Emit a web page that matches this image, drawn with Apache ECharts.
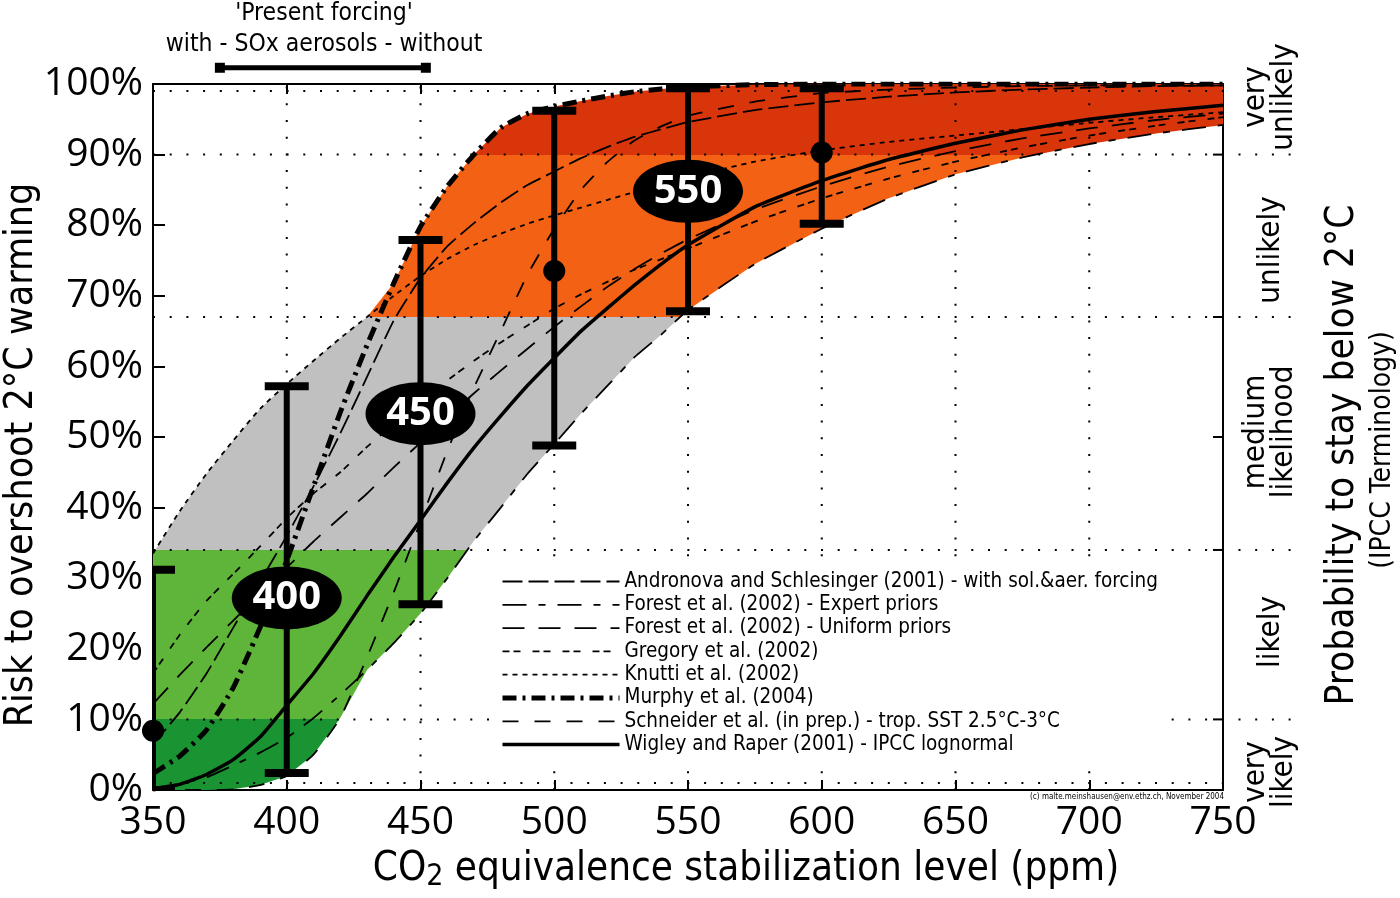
<!DOCTYPE html>
<html><head><meta charset="utf-8">
<script src="https://cdn.jsdelivr.net/npm/echarts@6/dist/echarts.min.js"></script>
<style>html,body{margin:0;padding:0;background:#fff}#c{width:1400px;height:898px}</style>
</head><body><div id="c"></div>
<script>
// ---------------- DATA ----------------
const ppm = [350,360,370,380,390,400,410,420,430,440,450,460,470,480,490,500,510,520,530,540,550,575,600,625,650,675,700,725,750];
const andronova     = [6.5,11,16.5,23,29.5,36,43,50.5,58.5,66.5,72.5,77,80.3,83.2,85.7,87.6,89.5,91.1,92.5,93.6,94.6,96.3,97.4,98.2,98.8,99.2,99.5,99.7,99.8];
const forestExpert  = [0.3,0.9,1.8,3.5,5.3,7.4,10.2,13.5,17,20.8,25,30,35.3,40,44.8,49,53.3,57.3,61.3,64.5,68,74.5,79.5,83.8,87.2,89.6,91.5,93,94.2];
const forestUniform = [12.2,16.3,20.2,24,27.8,31.5,35.2,38.6,42,45.7,49.2,52.8,56.2,59.4,62.5,65.6,68.5,71.3,73.8,76,78,82.2,85.5,88.3,90.5,92.3,93.7,94.9,95.8];
const gregory       = [16.5,22,26.8,30.6,34.5,38.5,42,45,48.6,51.8,55,58,60.8,63.4,65.8,68.2,70.2,72,73.7,75.2,76.7,80.5,83.8,86.6,89,91,92.7,94.1,95.3];
const knutti        = [33.5,39.5,44.8,49.5,54,57.5,60.8,64,67,70,72.8,75.2,77.2,78.8,80.2,81.4,82.5,83.6,84.7,85.8,86.8,89,90.6,91.8,92.7,93.6,94.5,95.3,96];
const murphy        = [2.3,4.8,8.5,14.5,23,32.5,43,53.5,63,71.8,79.8,85.5,90,93.8,95.8,96.8,97.6,98.3,98.9,99.3,99.6,99.9,100,100,100,100,100,100,100];
const schneider     = [0,0,0,0.1,0.7,2.0,5.0,10.2,18.8,28,38,48,57,65,73,79.5,85,89,92,94,95.5,97.5,98.7,99.2,99.5,99.7,99.8,99.9,100];
const wigley        = [0,0.8,2.2,4.3,7.5,12,16.5,21.8,27.5,33,38.2,43.5,48.5,53,57.3,61.2,65,68.3,71.5,74.5,77.2,82.6,86.3,89.3,91.6,93.5,95,96.1,97];

const seriesNames = [
  'Andronova and Schlesinger (2001) - with sol.&aer. forcing',
  'Forest et al. (2002) - Expert priors',
  'Forest et al. (2002) - Uniform priors',
  'Gregory et al. (2002)',
  'Knutti et al. (2002)',
  'Murphy et al. (2004)',
  'Schneider et al. (in prep.) - trop. SST 2.5°C-3°C',
  'Wigley and Raper (2001) - IPCC lognormal'
];

// error bars (range over studies and mean) at selected stabilization levels
const errPpm   = [350, 400, 450, 500, 550, 600];
const errLow   = [0, 2.4, 26.3, 48.8, 67.8, 80.2];
const errHigh  = [31.2, 57.2, 77.9, 96.2, 99.4, 99.4];
const errMean  = [8.4, 27.2, 53.3, 73.5, 84.8, 90.3];
const errLabel = ['', '400', '450', '', '550', ''];

// likelihood bands (risk %) and their names
const bandEdges  = [0, 10, 34, 67, 90, 100];
const bandNames  = ['very\nlikely', 'likely', 'medium\nlikelihood', 'unlikely', 'very\nunlikely'];
const dottedLevels = [1, 10, 34, 67, 90, 99];
const extendedLevels = [10, 34, 67, 90];
const rightTickLevels = [10, 34, 50, 67, 90];
const vGridLevels = [400, 450, 500, 550, 600, 650, 700];

// 'Present forcing' range (with / without SOx aerosols)
const forcingRange = [375, 452];
const forcingLevel = 102.3;

// ---------------- STYLES ----------------
const FONT_NUM = '"Open Sans", "DejaVu Sans", sans-serif';
const FONT_TXT = '"DejaVu Sans Condensed", "Open Sans", sans-serif';
const bandColors = ['#1a9332', '#5eb53a', '#c0c0c0', '#f26114', '#d9350b'];
const curveData = [andronova, forestExpert, forestUniform, gregory, knutti, murphy, schneider, wigley];
const curveStyles = [
  {width: 1.8, type: [20, 6]},
  {width: 1.8, type: [24, 12, 7, 12]},
  {width: 1.8, type: [22, 14]},
  {width: 1.8, type: [7, 4, 7, 12]},
  {width: 1.8, type: [5, 5]},
  {width: 5,   type: [14, 6, 3, 6]},
  {width: 1.8, type: [16, 16]},
  {width: 3.5, type: 'solid'}
];

// envelope of all studies
const envLow  = ppm.map((x, i) => Math.min(...curveData.map(c => c[i])));
const envHigh = ppm.map((x, i) => Math.max(...curveData.map(c => c[i])));

const chart = echarts.init(document.getElementById('c'), null, {renderer: 'canvas'});

const series = [];
series.push({
  name: 'envelope', type: 'custom', silent: true, clip: true, z: 1,
  data: [[350, 0]],
  renderItem: function (params, api) {
    const top = ppm.map((x, i) => api.coord([x, envHigh[i]]));
    const bot = ppm.map((x, i) => api.coord([x, envLow[i]])).reverse();
    const y0 = api.coord([350, bandEdges[0]])[1];
    const y1 = api.coord([350, bandEdges[bandEdges.length - 1]])[1];
    const span = bandEdges[bandEdges.length - 1] - bandEdges[0];
    const stops = [];
    bandColors.forEach((c, i) => {
      stops.push({offset: (bandEdges[i] - bandEdges[0]) / span, color: c});
      stops.push({offset: (bandEdges[i + 1] - bandEdges[0]) / span, color: c});
    });
    const grad = new echarts.graphic.LinearGradient(0, y0, 0, y1, stops, true);
    return {type: 'polygon', shape: {points: top.concat(bot)}, style: {fill: grad, stroke: null}};
  }
});
// dotted grid + right ticks
series.push({
  name: 'grid', type: 'custom', silent: true, clip: false, z: 2,
  data: [[350, 0]],
  renderItem: function (params, api) {
    const children = [];
    dottedLevels.forEach(v => {
      const a = api.coord([350, v]), b = api.coord([750, v]);
      const ext = extendedLevels.indexOf(v) >= 0 ? 77 : 0;
      children.push({type: 'line', shape: {x1: a[0], y1: a[1], x2: b[0] + ext, y2: b[1]},
        style: {stroke: '#000', lineWidth: 2, lineDash: [2, 14.7]}});
    });
    rightTickLevels.forEach(v => {
      const b = api.coord([750, v]);
      children.push({type: 'line', shape: {x1: b[0] - 10, y1: b[1], x2: b[0], y2: b[1]},
        style: {stroke: '#000', lineWidth: 2}});
    });
    vGridLevels.forEach(x => {
      const a = api.coord([x, 0]), b = api.coord([x, 100]);
      children.push({type: 'line', shape: {x1: a[0], y1: a[1], x2: b[0], y2: b[1]},
        style: {stroke: '#000', lineWidth: 2, lineDash: [2, 14.7]}});
    });
    return {type: 'group', children};
  }
});
curveData.forEach((d, k) => {
  series.push({
    name: seriesNames[k], type: 'line', data: ppm.map((x, i) => [x, d[i]]),
    symbol: 'none', smooth: 0.15, z: 3,
    lineStyle: {color: '#000', width: curveStyles[k].width, type: curveStyles[k].type},
    itemStyle: {color: '#000'}
  });
});
series.push({
  name: 'errorbars', type: 'custom', clip: true, silent: true, z: 5,
  data: errPpm.map((x, i) => [x, errLow[i], errHigh[i]]),
  encode: {x: 0, y: [1, 2]},
  renderItem: function (params, api) {
    const lo = api.coord([api.value(0), api.value(1)]);
    const hi = api.coord([api.value(0), api.value(2)]);
    return {type: 'group', children: [
      {type: 'line', shape: {x1: lo[0], y1: lo[1], x2: hi[0], y2: hi[1]}, style: {stroke: '#000', lineWidth: 6}},
      {type: 'rect', shape: {x: hi[0] - 22, y: hi[1] - 4, width: 44, height: 8}, style: {fill: '#000'}},
      {type: 'rect', shape: {x: lo[0] - 22, y: lo[1] - 4, width: 44, height: 8}, style: {fill: '#000'}}
    ]};
  }
});
series.push({
  name: 'means', type: 'scatter', clip: false, silent: true, z: 6,
  data: errPpm.map((x, i) => [x, errMean[i]]).filter((p, i) => errLabel[i] === ''),
  symbol: 'circle', symbolSize: 22, itemStyle: {color: '#000', opacity: 1}
});
series.push({
  name: 'labels', type: 'scatter', clip: false, silent: true, z: 7,
  data: errPpm.map((x, i) => [x, errMean[i], errLabel[i]]).filter(p => p[2] !== ''),
  symbol: 'path://M0,50A50,50,0,1,1,100,50A50,50,0,1,1,0,50Z', symbolSize: [110, 63],
  itemStyle: {color: '#000', opacity: 1},
  label: {show: true, position: 'inside', formatter: p => p.value[2], color: '#fff',
    fontSize: 40, fontWeight: 'bold', fontFamily: FONT_NUM}
});
series.push({
  name: 'forcing', type: 'custom', clip: false, silent: true, z: 5,
  data: [[forcingRange[0], forcingLevel, forcingRange[1]]],
  renderItem: function (params, api) {
    const a = api.coord([api.value(0), api.value(1)]);
    const b = api.coord([api.value(2), api.value(1)]);
    return {type: 'group', children: [
      {type: 'line', shape: {x1: a[0], y1: a[1], x2: b[0], y2: b[1]}, style: {stroke: '#000', lineWidth: 5}},
      {type: 'rect', shape: {x: a[0] - 5, y: a[1] - 5, width: 10, height: 10}, style: {fill: '#000'}},
      {type: 'rect', shape: {x: b[0] - 5, y: b[1] - 5, width: 10, height: 10}, style: {fill: '#000'}}
    ]};
  }
});

function txt(x, y, text, size, o) {
  o = o || {};
  const style = {text: text, fontSize: size, fontFamily: o.family || FONT_TXT, fill: '#000',
      align: o.align || 'center', verticalAlign: 'middle', textAlign: o.align || 'center', textVerticalAlign: 'middle'};
  if (o.lh) style.lineHeight = o.lh;
  if (o.rich) style.rich = o.rich;
  return {type: 'text', x: x, y: y, rotation: o.rot || 0, silent: true, z: 10, style: style};
}
const R = Math.PI / 2;
const bandTextPos = [[1270, 772], [1271, 632], [1270, 432], [1271, 250], [1270, 97]];
const graphics = [
  txt(22, 455, 'Risk to overshoot 2°C warming', 39, {rot: R}),
  txt(1343, 455, 'Probability to stay below 2°C', 38.5, {rot: R}),
  txt(1383, 450, '(IPCC Terminology)', 28, {rot: R}),
  txt(746, 870, '{a|CO}{b|2}{a| equivalence stabilization level (ppm)}', 40,
      {rich: {a: {fontSize: 40, fontFamily: FONT_TXT, lineHeight: 44},
              b: {fontSize: 30, fontFamily: FONT_TXT, lineHeight: 32, verticalAlign: 'bottom'}}}),
  txt(324, 14, "'Present forcing'", 24.5),
  txt(324, 45, 'with - SOx aerosols - without', 24.5),
  txt(1224, 797, '(c) malte.meinshausen@env.ethz.ch, November 2004', 8, {align: 'right'})
];
bandNames.forEach((t, i) => graphics.push(txt(bandTextPos[i][0], bandTextPos[i][1], t, 31, {rot: R, lh: 28})));

const option = {
  animation: false,
  backgroundColor: '#fff',
  grid: {left: 153, right: 177, top: 84, bottom: 108, containLabel: false},
  xAxis: [
    {type: 'value', min: 350, max: 750, interval: 50, position: 'bottom',
     axisLine: {show: true, onZero: false, lineStyle: {color: '#000', width: 2}},
     axisTick: {show: true, inside: true, length: 10, lineStyle: {color: '#000', width: 2}},
     axisLabel: {fontSize: 39, fontFamily: FONT_NUM, color: '#000', margin: 13},
     splitLine: {show: false}},
    {type: 'value', min: 350, max: 750, interval: 50, position: 'top',
     axisLine: {show: true, onZero: false, lineStyle: {color: '#000', width: 2}},
     axisTick: {show: true, inside: true, length: 10, lineStyle: {color: '#000', width: 2}},
     axisLabel: {show: false}, splitLine: {show: false}}
  ],
  yAxis: [
    {type: 'value', min: 0, max: 100, interval: 10, position: 'left',
     axisLine: {show: true, onZero: false, lineStyle: {color: '#000', width: 2}},
     axisTick: {show: true, inside: true, length: 12, lineStyle: {color: '#000', width: 2}},
     axisLabel: {fontSize: 39, fontFamily: FONT_NUM, color: '#000', margin: 10, formatter: '{value}%'},
     splitLine: {show: false}},
    {type: 'value', min: 0, max: 100, interval: 10, position: 'right',
     axisLine: {show: true, onZero: false, lineStyle: {color: '#000', width: 2}},
     axisTick: {show: false}, axisLabel: {show: false}, splitLine: {show: false}}
  ],
  legend: {
    data: seriesNames, orient: 'vertical', left: 497, top: 568, z: 4,
    padding: [3, 8, 3, 3], backgroundColor: '#fff',
    itemWidth: 117, itemHeight: 14, itemGap: 2.3, selectedMode: false,
    itemStyle: {opacity: 0},
    lineStyle: {width: 'inherit'},
    textStyle: {fontSize: 20.5, fontFamily: FONT_TXT, color: '#000'}
  },
  graphic: graphics,
  series: series
};
chart.setOption(option);
</script></body></html>
